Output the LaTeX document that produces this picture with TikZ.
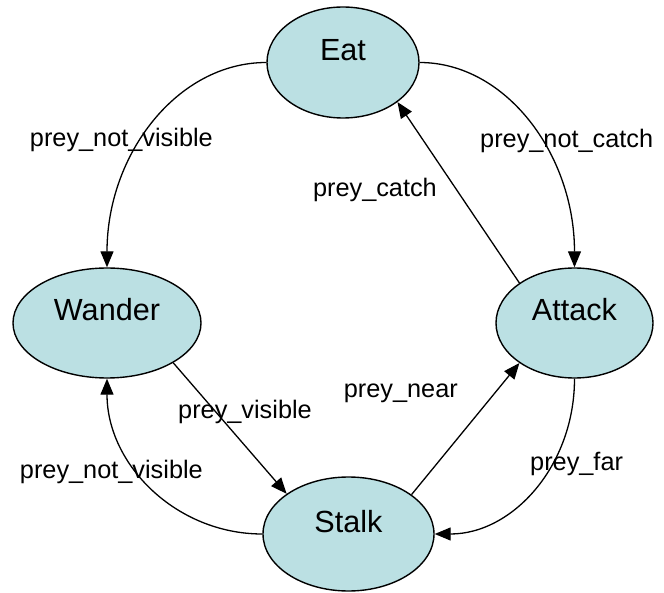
\documentclass[tikz,border=0pt]{standalone}
\usepackage{fontspec}
\setmainfont{Liberation Sans}
\usetikzlibrary{shapes.geometric,arrows.meta}
\definecolor{statefill}{RGB}{187,224,227}
\begin{document}
\begin{tikzpicture}[x=1pt,y=1pt,
  state/.style={ellipse,draw=black,line width=1.4pt,fill=statefill,inner sep=0pt,
    font=\fontsize{30.6}{36}\selectfont,text height=12pt,text depth=16pt},
  edge/.style={line width=1.3pt,-{Triangle[length=16pt,width=13pt]}},
  lbl/.style={font=\fontsize{25.3}{30}\selectfont,inner sep=0pt}]
\useasboundingbox (0,0) rectangle (664,-593);
\node[state,minimum width=152pt,minimum height=111pt] (eat) at (343,-62.5) {Eat};
\node[state,minimum width=188pt,minimum height=110pt] (wander) at (107,-323) {Wander};
\node[state,minimum width=157pt,minimum height=110pt] (attack) at (574.5,-323) {Attack};
\node[state,minimum width=171pt,minimum height=114pt] (stalk) at (348.5,-534) {Stalk};

\draw[edge] (eat.west) .. controls +(-89,0) and +(0,113) .. (wander.north);
\draw[edge] (eat.east) .. controls +(86,0) and +(0,113) .. (attack.north);
\draw[edge] (attack.144.7) -- (eat.-36.9);
\draw[edge] (wander.-31.2) -- (stalk.147.2);
\draw[edge] (stalk.west) .. controls +(-86,0) and +(0,-86) .. (wander.south);
\draw[edge] (stalk.32.4) -- (attack.216.6);
\draw[edge] (attack.south) .. controls +(0,-87) and +(78,0) .. (stalk.east);

\node[lbl,anchor=base east] (l1) at (213,-147) {prey\_not\_visible};
\node[lbl,anchor=base west] (l2) at (480,-148) {prey\_not\_catch};
\node[lbl,anchor=base east] (l3) at (437,-197) {prey\_catch};
\node[lbl,anchor=base west] (l4) at (178,-418) {prey\_visible};
\node[lbl,anchor=base east] (l5) at (203,-478) {prey\_not\_visible};
\node[lbl,anchor=base east] (l6) at (458,-398) {prey\_near};
\node[lbl,anchor=base west] (l7) at (530,-470) {prey\_far};
\end{tikzpicture}
\end{document}
